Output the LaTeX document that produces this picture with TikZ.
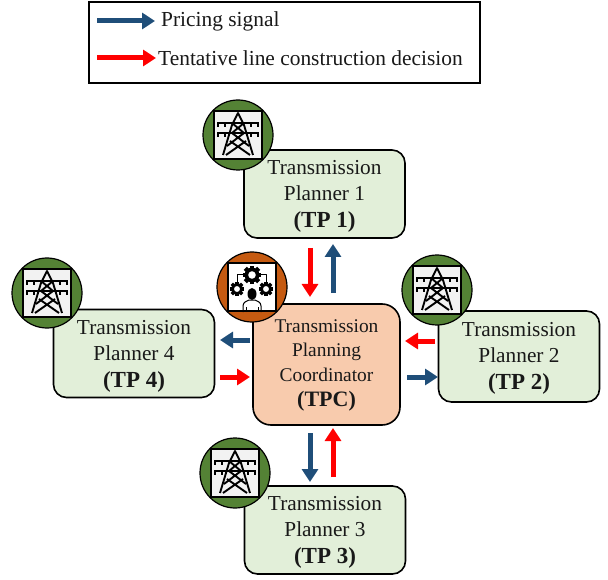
\documentclass[tikz,border=0pt]{standalone}
\usepackage{fontspec}
\setmainfont{Liberation Serif}
\usetikzlibrary{arrows.meta}
\definecolor{boxgreen}{HTML}{E2EFD9}
\definecolor{boxorange}{HTML}{F8CBAD}
\definecolor{ringgreen}{HTML}{548235}
\definecolor{ringorange}{HTML}{C55A11}
\definecolor{sigblue}{HTML}{1F4E79}
\definecolor{sigred}{HTML}{FF0000}
\newcommand{\bigbold}[1]{{\fontsize{23}{26}\selectfont\textbf{#1}}}
\tikzset{
  planner/.style={draw=black,line width=1.6pt,rounded corners=13pt,fill=boxgreen,inner sep=0pt,minimum width=161pt,minimum height=88pt},
  coord/.style={draw=black,line width=1.6pt,rounded corners=18pt,fill=boxorange,inner sep=0pt,minimum width=147pt,minimum height=121pt},
  plannertext/.style={align=center,inner sep=0pt,font=\fontsize{21.3}{26}\selectfont,text=black!90},
  coordtext/.style={align=center,inner sep=0pt,font=\fontsize{19.4}{24.5}\selectfont,text=black!90},
  legendbox/.style={draw=black,line width=2pt,fill=white,minimum width=391pt,minimum height=81pt,inner sep=0pt},
  legendtext/.style={anchor=base west,inner sep=0pt,font=\fontsize{21.4}{24}\selectfont,text=black!90},
  ring/.style={draw=black,line width=1.2pt,circle,minimum size=70pt,inner sep=0pt},
  frame/.style={draw=black,line width=1.8pt,fill=white!95!black,minimum size=48pt,inner sep=0pt},
  bluearrow/.style={draw=sigblue,line width=5pt,-{Triangle[length=13pt,width=16pt]}},
  redarrow/.style={draw=sigred,line width=5pt,-{Triangle[length=13pt,width=16pt]}},
  iconline/.style={draw=black,line width=1.9pt,line join=round},
}
\newcommand{\towericon}[2]{%
  \node[ring,fill=ringgreen] (#1) at (#2) {};
  \node[frame] (#1f) at (#1) {};
  \begin{scope}[shift={(#1)}]
    \draw[iconline] (-15,20) -- (-6,-10) -- (0,-22) -- (6,-10) -- (15,20);
    \draw[iconline] (-11,11) -- (6,-2) -- (-6,-12) (11,11) -- (-6,-2) -- (6,-12);
    \draw[iconline] (-12,20) -- (8,6) (12,20) -- (-8,6);
    \draw[iconline,line width=2.2pt] (-21,-12) -- (21,-12) (-21,-2) -- (21,-2);
    \draw[iconline,line width=1.2pt] (-20,-12) -- (-20,-8) (20,-12) -- (20,-8) (-20,-2) -- (-20,2) (20,-2) -- (20,2)
      (-13,-12) -- (-13,-8) (13,-12) -- (13,-8) (-13,-2) -- (-13,2) (13,-2) -- (13,2);
  \end{scope}}
\newcommand{\gearshape}[2]{%
  \fill[black,shift={(#1)}] (0,0) circle (#2*0.82);
  \foreach \a in {0,45,...,315}{\fill[black,shift={(#1)},rotate=\a] (-#2*0.25,#2*0.6) rectangle (#2*0.25,#2*1.05);}
  \fill[white,shift={(#1)}] (0,0) circle (#2*0.42);}
\begin{document}
\begin{tikzpicture}[x=1pt,y=-1pt]
\useasboundingbox[fill=white] (0,0) rectangle (608,580);
% legend
\node[legendbox] (legend) at (284.5,42.5) {};
\coordinate (lbs) at (97,21); \coordinate (lbe) at (155,21);
\coordinate (lrs) at (97,58); \coordinate (lre) at (156,58);
\draw[bluearrow] (lbs) -- (lbe);
\draw[redarrow] (lrs) -- (lre);
\node[legendtext] (ltb) at (161,27) {Pricing signal};
\node[legendtext] (ltr) at (158,66) {Tentative line construction decision};
% boxes
\node[planner] (tp1) at (324.5,194) {};
\node[planner,minimum height=91pt] (tp2) at (519,356.5) {};
\node[planner] (tp3) at (325,530) {};
\node[planner] (tp4) at (134,353.5) {};
\node[coord] (tpc) at (326.5,364.5) {};
\node[plannertext] (tp1t) at ([yshift=-2.5pt]tp1.center) {Transmission\\Planner 1\\[1pt]\bigbold{(TP 1)}};
\node[plannertext] (tp2t) at ([yshift=-2pt]tp2.center) {Transmission\\Planner 2\\[1pt]\bigbold{(TP 2)}};
\node[plannertext] (tp3t) at ([yshift=-2.5pt]tp3.center) {Transmission\\Planner 3\\[1pt]\bigbold{(TP 3)}};
\node[plannertext] (tp4t) at ([yshift=-2.5pt]tp4.center) {Transmission\\Planner 4\\[1pt]\bigbold{(TP 4)}};
\node[coordtext] (tpct) at ([yshift=-1pt]tpc.center) {Transmission\\Planning\\Coordinator\\[1pt]{\fontsize{22}{26}\selectfont\textbf{(TPC)}}};
% icons
\towericon{ia}{238,135}
\towericon{ib}{437,290}
\towericon{ic}{235,473}
\towericon{id}{47,293}
\node[ring,fill=ringorange] (ie) at (252,287) {};
\node[frame,fill=white] (ief) at (ie) {};
\draw[iconline,line width=1pt] (245,275) -- (237,275) -- (237,283) (259,275) -- (266,275) -- (266,283);
\gearshape{252,275}{9}
\gearshape{237,289}{7}
\gearshape{266,289}{7}
\fill[black] (252,294) ellipse (4.5 and 6);
\draw[iconline,line width=1pt] (243,312) -- (243,306) .. controls (243,302) and (247,301) .. (249,300) -- (255,300) .. controls (257,301) and (261,302) .. (261,306) -- (261,312);
\draw[iconline,line width=1pt] (246,312) -- (246,307) (258,312) -- (258,307);
% connectors
\coordinate (a1) at (310,248); \coordinate (a2) at (310,297);
\coordinate (b1) at (333,293); \coordinate (b2) at (333,244);
\coordinate (c1) at (250,340); \coordinate (c2) at (220,340);
\coordinate (d1) at (220,377); \coordinate (d2) at (250,377);
\coordinate (e1) at (435,341); \coordinate (e2) at (405,341);
\coordinate (f1) at (407,377); \coordinate (f2) at (438,377);
\coordinate (g1) at (310,433); \coordinate (g2) at (310,482);
\coordinate (h1) at (333,477); \coordinate (h2) at (333,428);
\draw[redarrow] (a1) -- (a2);
\draw[bluearrow] (b1) -- (b2);
\draw[bluearrow] (c1) -- (c2);
\draw[redarrow] (d1) -- (d2);
\draw[redarrow] (e1) -- (e2);
\draw[bluearrow] (f1) -- (f2);
\draw[bluearrow] (g1) -- (g2);
\draw[redarrow] (h1) -- (h2);
\end{tikzpicture}
\end{document}
